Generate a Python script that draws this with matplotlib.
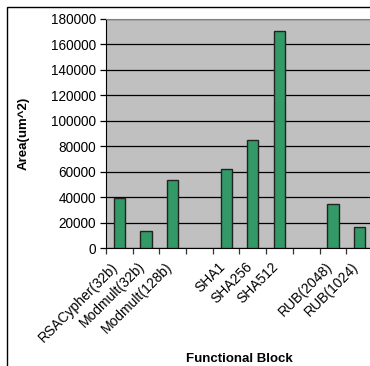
#! /usr/bin/env python3
""" Area of each functional block, Excel-style column chart. """

import numpy as np
import matplotlib.pyplot as plt
from matplotlib.patches import Rectangle
from matplotlib.transforms import ScaledTranslation

blocks = ['RSACypher(32b)', 'Modmult(32b)', 'Modmult(128b)', '',
          'SHA1', 'SHA256', 'SHA512', '',
          'RUB(2048)', 'RUB(1024)']
# empty slots separate the groups
area = [39500, 13700, 53500, np.nan,
        62200, 84500, 170700, np.nan,
        34700, 16800]
yticks = list(range(0, 180001, 20000))

if __name__ == "__main__":
    plt.rcParams['font.family'] = ['Liberation Sans', 'DejaVu Sans']
    fig = plt.figure(figsize=(3.7, 3.66), dpi=100)

    # outer chart frame, open on the right and bottom
    fig.patches.append(Rectangle((7 / 370, -0.1), 1.2, 1.1 - 7 / 366,
                                 transform=fig.transFigure, fill=False,
                                 edgecolor='black', linewidth=1.0))

    ax = fig.add_axes([106 / 370, 118 / 366, 267 / 370, 229 / 366])
    ax.set_facecolor('#c0c0c0')

    x = np.arange(len(blocks))
    ax.bar(x, area, width=0.42, color='#339966', edgecolor='#222222',
           linewidth=1.0, zorder=3)

    ax.set_xlim(-0.5, len(blocks) - 0.5)
    ax.set_ylim(0, 180000)
    ax.set_yticks(yticks)
    ax.set_yticklabels([str(t) for t in yticks], fontsize=9.8)
    ax.yaxis.grid(True, color='black', linewidth=0.9, zorder=1)

    # labels on category centres, tick marks between categories
    ax.set_xticks(x)
    ax.set_xticklabels(blocks, fontsize=10, rotation=45, ha='right',
                       va='center', rotation_mode='anchor')
    ax.tick_params(axis='x', which='major', length=0, pad=12)
    shift = ScaledTranslation(-3 / 100, 0, fig.dpi_scale_trans)
    for lab in ax.get_xticklabels():
        lab.set_transform(lab.get_transform() + shift)
    ax.set_xticks(np.arange(-0.5, len(blocks), 1.0), minor=True)
    ax.tick_params(axis='x', which='minor', length=4, width=0.9,
                   direction='out', color='#333333')
    ax.tick_params(axis='y', length=4, width=0.9, direction='out', pad=3)

    for side in ['top', 'right']:
        ax.spines[side].set_color('#808080')
    ax.spines['left'].set_color('black')
    ax.spines['bottom'].set_color('black')

    ax.set_ylabel('Area(um^2)', fontsize=9.5, fontweight='bold')
    ax.set_xlabel('Functional Block', fontsize=9.5, fontweight='bold')
    ax.xaxis.set_label_coords(0.5, -0.46)
    ax.yaxis.set_label_coords(-0.285, 0.5)

    fig.savefig('out.png', dpi=100)
